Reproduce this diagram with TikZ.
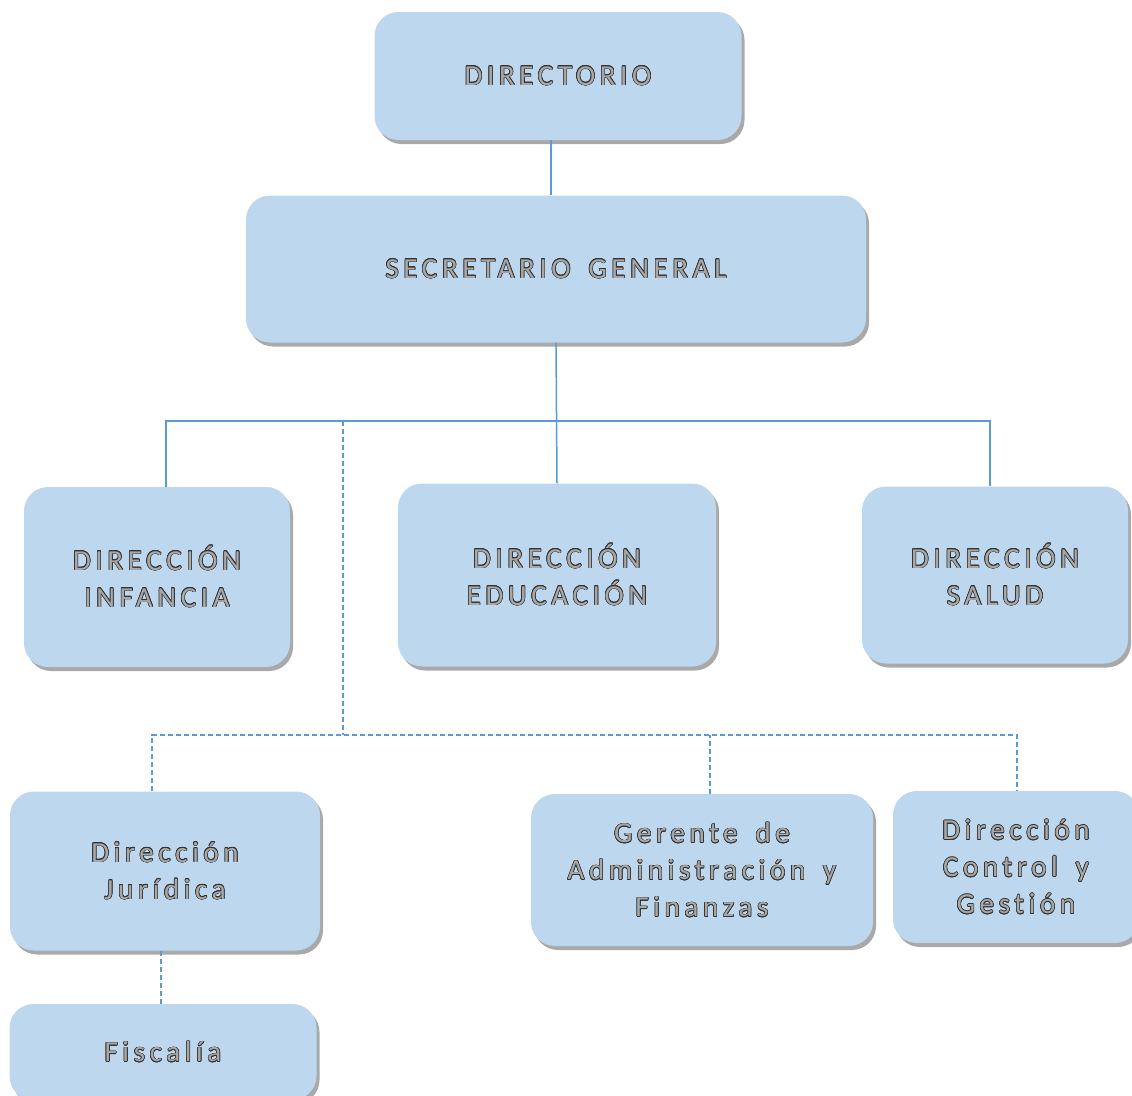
\documentclass[tikz,border=0pt]{standalone}
\usepackage{fontspec}
\setmainfont{Carlito}[LetterSpace=16,Ligatures=NoCommon,WordSpace=1.6]
\usepackage{contour}
\contourlength{0.6pt}
\usetikzlibrary{shadows}
\definecolor{boxfill}{HTML}{BDD7EE}
\definecolor{linkblue}{HTML}{5B9BD5}
\definecolor{textgray}{HTML}{A8A8A8}
\definecolor{edgegray}{HTML}{333333}
\newcommand{\olt}[1]{\contour{edgegray}{#1}}

\begin{document}
\begin{tikzpicture}[x=1pt,y=-1pt,
    org node/.style={fill=boxfill,rounded corners=24pt,align=center,inner sep=0pt,
        font=\fontsize{29}{37}\selectfont,text=textgray,
        drop shadow={shadow xshift=3pt,shadow yshift=-4pt,opacity=0.45,fill=black!75}},
    solid link/.style={draw=linkblue,line width=1.5pt},
    dashed link/.style={draw=linkblue,line width=1.4pt,dash pattern=on 5pt off 3pt}]
    \useasboundingbox (0,0) rectangle (1132,1095);

    % boxes
    \node[org node,minimum width=367pt,minimum height=128pt] (dir) at (558,76) {\olt{DIRECTORIO}};
    \node[org node,minimum width=620pt,minimum height=147pt] (sec) at (556,269) {\olt{SECRETARIO GENERAL}};
    \node[org node,minimum width=266pt,minimum height=180pt] (inf) at (157,577) {\olt{DIRECCIÓN}\\\olt{INFANCIA}};
    \node[org node,minimum width=318pt,minimum height=183pt] (edu) at (557,575) {\olt{DIRECCIÓN}\\\olt{EDUCACIÓN}};
    \node[org node,minimum width=266pt,minimum height=177pt] (sal) at (995,575) {\olt{DIRECCIÓN}\\\olt{SALUD}};
    \node[org node,minimum width=310pt,minimum height=159pt] (jur) at (165,871) {\olt{Dirección}\\\olt{Jurídica}};
    \node[org node,minimum width=307pt,minimum height=96pt] (fis) at (163,1052) {\olt{Fiscalía}};
    \node[org node,minimum width=342pt,minimum height=152pt] (ger) at (702,870) {\olt{Gerente de}\\\olt{Administración y}\\\olt{Finanzas}};
    \node[org node,minimum width=246pt,minimum height=152pt] (ctl) at (1016,867) {\olt{Dirección}\\\olt{Control y}\\\olt{Gestión}};

    % junctions
    \coordinate (bus) at (556,421);
    \coordinate (dtop) at (343,421);
    \coordinate (dbus) at (343,735);

    % solid links
    \draw[solid link] ([xshift=-7pt]dir.south) -- ([xshift=-7pt]dir.south |- sec.north);
    \draw[solid link] (sec.south) -- (edu.north);
    \draw[solid link] ([xshift=9pt]inf.north) |- (bus) -| ([xshift=-5pt]sal.north);

    % dashed links
    \draw[dashed link] (dtop) -- (dbus);
    \draw[dashed link] ([xshift=-13pt]jur.north) |- (dbus) -| ([xshift=1pt]ctl.north);
    \draw[dashed link] ([xshift=8pt]ger.north) -- ([xshift=8pt]ger.north |- dbus);
    \draw[dashed link] ([xshift=-4pt]jur.south) -- ([xshift=-4pt]jur.south |- fis.north);
\end{tikzpicture}
\end{document}
